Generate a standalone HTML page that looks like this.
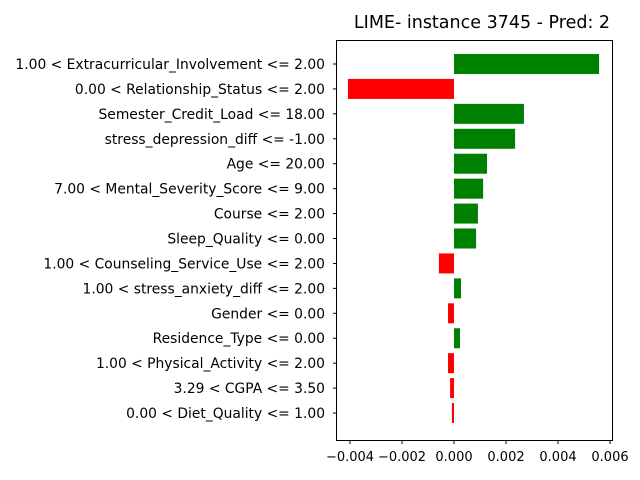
<!DOCTYPE html>
<html><head><meta charset="utf-8"><style>
body{margin:0;background:#fff;}
svg{display:block;font-family:"DejaVu Sans","Liberation Sans",sans-serif;}
</style></head><body>
<svg id="chart" width="640" height="480">
<text x="482" y="28" font-size="17.5" text-anchor="middle">LIME- instance 3745 - Pred: 2</text>
<g id="bars"></g><g id="yt"></g><g id="xt"></g>
<rect x="336.5" y="40.5" width="276" height="400" fill="none" stroke="#000" stroke-width="1"/>
</svg>
<script>
const features = ["1.00 < Extracurricular_Involvement <= 2.00","0.00 < Relationship_Status <= 2.00","Semester_Credit_Load <= 18.00","stress_depression_diff <= -1.00","Age <= 20.00","7.00 < Mental_Severity_Score <= 9.00","Course <= 2.00","Sleep_Quality <= 0.00","1.00 < Counseling_Service_Use <= 2.00","1.00 < stress_anxiety_diff <= 2.00","Gender <= 0.00","Residence_Type <= 0.00","1.00 < Physical_Activity <= 2.00","3.29 < CGPA <= 3.50","0.00 < Diet_Quality <= 1.00"];
const weights = [0.00558,-0.00408,0.00269,0.00235,0.00127,0.00112,0.00092,0.00085,-0.00058,0.00027,-0.00023,0.00023,-0.00023,-0.00015,-0.00008];
const xTicks = [-0.004,-0.002,0,0.002,0.004,0.006];
const xTickLabels = ["−0.004","−0.002","0.000","0.002","0.004","0.006"];
const NS="http://www.w3.org/2000/svg";
const x = v => 454 + v*26000;
const y = i => 64 + i*24.93;
const mk=(t,a)=>{const e=document.createElementNS(NS,t);for(const k in a)e.setAttribute(k,a[k]);return e;};
const bars=document.getElementById('bars'),yt=document.getElementById('yt'),xt=document.getElementById('xt');
features.forEach((f,i)=>{
  const w=weights[i];
  const r=mk('rect',{x:Math.min(x(0),x(w)),y:y(i)-10,width:Math.abs(x(w)-x(0)),height:20,fill:w>=0?'green':'red'});
  
  
  bars.appendChild(r);
  const tk=mk('line',{x1:336.5,x2:333,y1:y(i),y2:y(i),stroke:'#000'});
  yt.appendChild(tk);
  const t=mk('text',{x:325,y:y(i)+5,'font-size':13.85,'text-anchor':'end'});
  t.textContent=f;
  
  
  yt.appendChild(t);
});
xTicks.forEach((v,i)=>{
  xt.appendChild(mk('line',{x1:x(v),x2:x(v),y1:440.5,y2:444,stroke:'#000'}));
  const t=mk('text',{x:x(v),y:461,'font-size':13,'text-anchor':'middle'});
  t.textContent=xTickLabels[i];
  
  
  xt.appendChild(t);
});
</script>
</body></html>
